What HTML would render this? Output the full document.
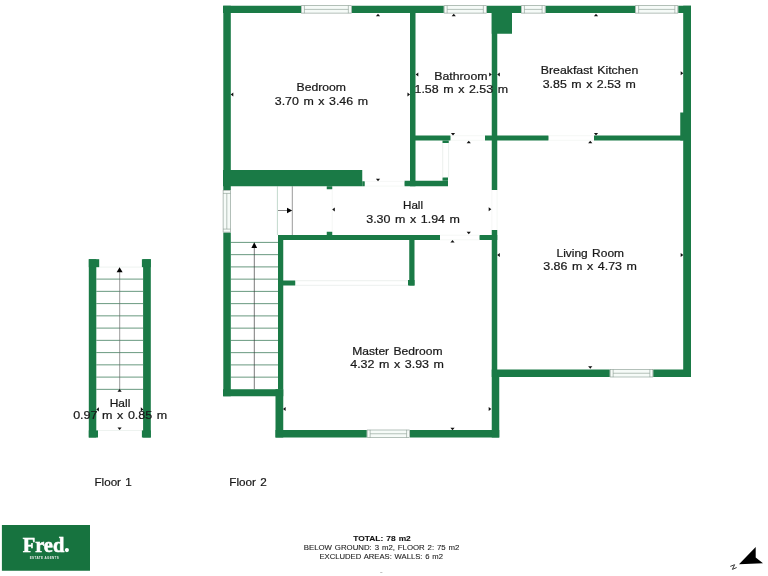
<!DOCTYPE html>
<html><head><meta charset="utf-8"><title>Floor plan</title>
<style>html,body{margin:0;padding:0;background:#fff;}body{width:768px;height:576px;overflow:hidden;}svg{display:block;}text{font-family:"Liberation Sans",sans-serif;}</style>
</head><body>
<svg width="768" height="576" viewBox="0 0 768 576">
<rect width="768" height="576" fill="#fff"/>
<g id="stairs2">
<line x1="230.8" y1="242.4" x2="278" y2="242.4" stroke="#437f60" stroke-width="0.8"/>
<line x1="230.8" y1="254.65" x2="278" y2="254.65" stroke="#437f60" stroke-width="0.8"/>
<line x1="230.8" y1="266.9" x2="278" y2="266.9" stroke="#437f60" stroke-width="0.8"/>
<line x1="230.8" y1="279.15" x2="278" y2="279.15" stroke="#437f60" stroke-width="0.8"/>
<line x1="230.8" y1="291.4" x2="278" y2="291.4" stroke="#437f60" stroke-width="0.8"/>
<line x1="230.8" y1="303.65" x2="278" y2="303.65" stroke="#437f60" stroke-width="0.8"/>
<line x1="230.8" y1="315.9" x2="278" y2="315.9" stroke="#437f60" stroke-width="0.8"/>
<line x1="230.8" y1="328.15" x2="278" y2="328.15" stroke="#437f60" stroke-width="0.8"/>
<line x1="230.8" y1="340.4" x2="278" y2="340.4" stroke="#437f60" stroke-width="0.8"/>
<line x1="230.8" y1="352.65" x2="278" y2="352.65" stroke="#437f60" stroke-width="0.8"/>
<line x1="230.8" y1="364.9" x2="278" y2="364.9" stroke="#437f60" stroke-width="0.8"/>
<line x1="230.8" y1="377.15" x2="278" y2="377.15" stroke="#437f60" stroke-width="0.8"/>
<line x1="277.4" y1="186.25" x2="277.4" y2="235" stroke="#a9c9b7" stroke-width="0.7"/>
<line x1="292.3" y1="186.25" x2="292.3" y2="235" stroke="#555" stroke-width="0.6"/>
<line x1="254.3" y1="389.25" x2="254.3" y2="247" stroke="#333" stroke-width="0.65"/>
<polygon points="251.4,248 257.1,248 254.25,242.3" fill="#000"/>
<line x1="278" y1="210.5" x2="288" y2="210.5" stroke="#333" stroke-width="0.6"/>
<polygon points="287,207.7 287,213.3 292.2,210.5" fill="#000"/>
</g>
<g id="walls2">
<rect x="223" y="5.75" width="468" height="7.25" fill="#1a7a46"/>
<rect x="223.3" y="5.75" width="7.5" height="390.5" fill="#1a7a46"/>
<rect x="683.2" y="5.75" width="7.8" height="371.25" fill="#1a7a46"/>
<rect x="680.25" y="112.5" width="10.75" height="28.0" fill="#1a7a46"/>
<rect x="223" y="170" width="139.25" height="16.25" fill="#1a7a46"/>
<rect x="362.25" y="181.25" width="2.5" height="5.0" fill="#1a7a46"/>
<rect x="223" y="389.25" width="60.25" height="7.0" fill="#1a7a46"/>
<rect x="278" y="235" width="5.25" height="154.25" fill="#1a7a46"/>
<rect x="275.5" y="389.25" width="7.75" height="48.25" fill="#1a7a46"/>
<rect x="275.5" y="430" width="223.75" height="7.5" fill="#1a7a46"/>
<rect x="491.75" y="377" width="7.5" height="60.5" fill="#1a7a46"/>
<rect x="491.75" y="369.5" width="199.25" height="7.5" fill="#1a7a46"/>
<rect x="410" y="13" width="5.5" height="173.25" fill="#1a7a46"/>
<rect x="491.75" y="13" width="5.5" height="177" fill="#1a7a46"/>
<rect x="491.75" y="230" width="5.5" height="147" fill="#1a7a46"/>
<rect x="491.75" y="13" width="20.25" height="20.75" fill="#1a7a46"/>
<rect x="410" y="135.5" width="40.5" height="5.0" fill="#1a7a46"/>
<rect x="442.5" y="140.5" width="6.25" height="2.5" fill="#1a7a46"/>
<rect x="485" y="135.5" width="63.5" height="5.0" fill="#1a7a46"/>
<rect x="594" y="135.5" width="89.5" height="5.0" fill="#1a7a46"/>
<rect x="404.5" y="180.75" width="43.5" height="5.5" fill="#1a7a46"/>
<rect x="442.5" y="177.5" width="5.5" height="3.25" fill="#1a7a46"/>
<rect x="278" y="235" width="162" height="5" fill="#1a7a46"/>
<rect x="479.5" y="235" width="17.75" height="5" fill="#1a7a46"/>
<rect x="326.75" y="186.25" width="5.5" height="3.0" fill="#1a7a46"/>
<rect x="326.75" y="231.75" width="5.5" height="3.25" fill="#1a7a46"/>
<rect x="409.25" y="240" width="5.25" height="45.5" fill="#1a7a46"/>
<rect x="408" y="280" width="6.5" height="5.5" fill="#1a7a46"/>
<rect x="283" y="280.5" width="12.25" height="5.0" fill="#1a7a46"/>
</g>
<g id="thin">
<line x1="332.25" y1="189.25" x2="332.25" y2="231.75" stroke="#eef2ef" stroke-width="0.6"/>
<line x1="364.75" y1="181.4" x2="404.5" y2="181.4" stroke="#eef2ef" stroke-width="0.6"/>
<line x1="364.75" y1="186.1" x2="404.5" y2="186.1" stroke="#eef2ef" stroke-width="0.6"/>
<line x1="450.5" y1="135.7" x2="485" y2="135.7" stroke="#eef2ef" stroke-width="0.6"/>
<line x1="450.5" y1="140.3" x2="485" y2="140.3" stroke="#eef2ef" stroke-width="0.6"/>
<line x1="548.5" y1="135.7" x2="594" y2="135.7" stroke="#eef2ef" stroke-width="0.6"/>
<line x1="548.5" y1="140.3" x2="594" y2="140.3" stroke="#eef2ef" stroke-width="0.6"/>
<line x1="491.9" y1="190" x2="491.9" y2="230" stroke="#eef2ef" stroke-width="0.6"/>
<line x1="497.1" y1="190" x2="497.1" y2="230" stroke="#eef2ef" stroke-width="0.6"/>
<line x1="440" y1="235.2" x2="479.5" y2="235.2" stroke="#eef2ef" stroke-width="0.6"/>
<line x1="440" y1="239.8" x2="479.5" y2="239.8" stroke="#eef2ef" stroke-width="0.6"/>
<line x1="442.7" y1="143" x2="442.7" y2="177.5" stroke="#dfe6e2" stroke-width="0.6"/>
<line x1="448.6" y1="143" x2="448.6" y2="177.5" stroke="#dfe6e2" stroke-width="0.6"/>
<line x1="295.25" y1="280.7" x2="408" y2="280.7" stroke="#dfe6e2" stroke-width="0.6"/>
<line x1="295.25" y1="285.3" x2="408" y2="285.3" stroke="#dfe6e2" stroke-width="0.6"/>
</g>
<g id="windows">
<rect x="301" y="5.3" width="50.75" height="8.2" fill="#fff"/>
<rect x="301.3" y="5.6" width="50.15" height="7.6" fill="#f6fbf8"/>
<rect x="301.4" y="5.699999999999999" width="49.95" height="7.4" fill="none" stroke="#889a90" stroke-width="0.6"/>
<line x1="304.4" y1="5.6" x2="304.4" y2="13.2" stroke="#889a90" stroke-width="0.6"/>
<line x1="348.35" y1="5.6" x2="348.35" y2="13.2" stroke="#889a90" stroke-width="0.6"/>
<line x1="304.4" y1="9.399999999999999" x2="348.35" y2="9.399999999999999" stroke="#889a90" stroke-width="0.6"/>
<rect x="443.75" y="5.3" width="43.0" height="8.2" fill="#fff"/>
<rect x="444.05" y="5.6" width="42.4" height="7.6" fill="#f6fbf8"/>
<rect x="444.15" y="5.699999999999999" width="42.2" height="7.4" fill="none" stroke="#889a90" stroke-width="0.6"/>
<line x1="447.15" y1="5.6" x2="447.15" y2="13.2" stroke="#889a90" stroke-width="0.6"/>
<line x1="483.35" y1="5.6" x2="483.35" y2="13.2" stroke="#889a90" stroke-width="0.6"/>
<line x1="447.15" y1="9.399999999999999" x2="483.35" y2="9.399999999999999" stroke="#889a90" stroke-width="0.6"/>
<rect x="521" y="5.3" width="24.5" height="8.2" fill="#fff"/>
<rect x="521.3" y="5.6" width="23.9" height="7.6" fill="#f6fbf8"/>
<rect x="521.4" y="5.699999999999999" width="23.7" height="7.4" fill="none" stroke="#889a90" stroke-width="0.6"/>
<line x1="524.4" y1="5.6" x2="524.4" y2="13.2" stroke="#889a90" stroke-width="0.6"/>
<line x1="542.1" y1="5.6" x2="542.1" y2="13.2" stroke="#889a90" stroke-width="0.6"/>
<line x1="524.4" y1="9.399999999999999" x2="542.1" y2="9.399999999999999" stroke="#889a90" stroke-width="0.6"/>
<rect x="635.25" y="5.3" width="43.0" height="8.2" fill="#fff"/>
<rect x="635.55" y="5.6" width="42.4" height="7.6" fill="#f6fbf8"/>
<rect x="635.65" y="5.699999999999999" width="42.2" height="7.4" fill="none" stroke="#889a90" stroke-width="0.6"/>
<line x1="638.65" y1="5.6" x2="638.65" y2="13.2" stroke="#889a90" stroke-width="0.6"/>
<line x1="674.85" y1="5.6" x2="674.85" y2="13.2" stroke="#889a90" stroke-width="0.6"/>
<line x1="638.65" y1="9.399999999999999" x2="674.85" y2="9.399999999999999" stroke="#889a90" stroke-width="0.6"/>
<rect x="366.75" y="429.59999999999997" width="43.25" height="8.3" fill="#fff"/>
<rect x="367.05" y="429.9" width="42.65" height="7.7" fill="#f6fbf8"/>
<rect x="367.15" y="430.0" width="42.45" height="7.5" fill="none" stroke="#889a90" stroke-width="0.6"/>
<line x1="370.15" y1="429.9" x2="370.15" y2="437.6" stroke="#889a90" stroke-width="0.6"/>
<line x1="406.6" y1="429.9" x2="406.6" y2="437.6" stroke="#889a90" stroke-width="0.6"/>
<line x1="370.15" y1="433.75" x2="406.6" y2="433.75" stroke="#889a90" stroke-width="0.6"/>
<rect x="609.75" y="369.09999999999997" width="43.5" height="8.3" fill="#fff"/>
<rect x="610.05" y="369.4" width="42.9" height="7.7" fill="#f6fbf8"/>
<rect x="610.15" y="369.5" width="42.7" height="7.5" fill="none" stroke="#889a90" stroke-width="0.6"/>
<line x1="613.15" y1="369.4" x2="613.15" y2="377.1" stroke="#889a90" stroke-width="0.6"/>
<line x1="649.85" y1="369.4" x2="649.85" y2="377.1" stroke="#889a90" stroke-width="0.6"/>
<line x1="613.15" y1="373.25" x2="649.85" y2="373.25" stroke="#889a90" stroke-width="0.6"/>
<rect x="222.7" y="190" width="8.2" height="42.5" fill="#fff"/>
<rect x="223" y="190.3" width="7.6" height="41.9" fill="#f6fbf8"/>
<rect x="223.1" y="190.4" width="7.4" height="41.7" fill="none" stroke="#889a90" stroke-width="0.6"/>
<line x1="223" y1="193.4" x2="230.6" y2="193.4" stroke="#889a90" stroke-width="0.6"/>
<line x1="223" y1="229.1" x2="230.6" y2="229.1" stroke="#889a90" stroke-width="0.6"/>
<line x1="226.8" y1="193.4" x2="226.8" y2="229.1" stroke="#889a90" stroke-width="0.6"/>
</g>
<g id="floor1">
<line x1="96.3" y1="279.1" x2="143.1" y2="279.1" stroke="#437f60" stroke-width="0.8"/>
<line x1="96.3" y1="291.35" x2="143.1" y2="291.35" stroke="#437f60" stroke-width="0.8"/>
<line x1="96.3" y1="303.6" x2="143.1" y2="303.6" stroke="#437f60" stroke-width="0.8"/>
<line x1="96.3" y1="315.85" x2="143.1" y2="315.85" stroke="#437f60" stroke-width="0.8"/>
<line x1="96.3" y1="328.1" x2="143.1" y2="328.1" stroke="#437f60" stroke-width="0.8"/>
<line x1="96.3" y1="340.35" x2="143.1" y2="340.35" stroke="#437f60" stroke-width="0.8"/>
<line x1="96.3" y1="352.6" x2="143.1" y2="352.6" stroke="#437f60" stroke-width="0.8"/>
<line x1="96.3" y1="364.85" x2="143.1" y2="364.85" stroke="#437f60" stroke-width="0.8"/>
<line x1="96.3" y1="377.1" x2="143.1" y2="377.1" stroke="#437f60" stroke-width="0.8"/>
<line x1="96.3" y1="389.35" x2="143.1" y2="389.35" stroke="#437f60" stroke-width="0.8"/>
<line x1="99.4" y1="267.1" x2="141.9" y2="267.1" stroke="#e3ebe6" stroke-width="0.6"/>
<line x1="98" y1="430.5" x2="141.9" y2="430.5" stroke="#e3ebe6" stroke-width="0.6"/>
<line x1="119.7" y1="389.3" x2="119.7" y2="272" stroke="#666" stroke-width="0.65"/>
<polygon points="116.6,272.2 122.6,272.2 119.6,267.3" fill="#000"/>
<rect x="88.8" y="259.2" width="7.5" height="178.3" fill="#1a7a46"/>
<rect x="88.8" y="259.2" width="10.4" height="8.0" fill="#1a7a46"/>
<rect x="88.8" y="430.4" width="9.2" height="7.1" fill="#1a7a46"/>
<rect x="143.1" y="259.2" width="7.7" height="178.3" fill="#1a7a46"/>
<rect x="141.9" y="259.2" width="8.9" height="8.0" fill="#1a7a46"/>
<rect x="141.9" y="430.4" width="8.9" height="7.1" fill="#1a7a46"/>
</g>
<g id="markers">
<polygon points="375.9,16.3 380.1,16.3 378,13.7" fill="#111"/>
<polygon points="233.3,92.4 233.3,96.6 230.7,94.5" fill="#111"/>
<polygon points="407.45,92.4 407.45,96.6 410.05,94.5" fill="#111"/>
<polygon points="375.9,178.7 380.1,178.7 378,181.3" fill="#111"/>
<polygon points="418.3,72.4 418.3,76.6 415.7,74.5" fill="#111"/>
<polygon points="489.2,72.4 489.2,76.6 491.8,74.5" fill="#111"/>
<polygon points="451.65,16.3 455.85,16.3 453.75,13.7" fill="#111"/>
<polygon points="450.9,132.95 455.1,132.95 453,135.55" fill="#111"/>
<polygon points="499.8,72.4 499.8,76.6 497.2,74.5" fill="#111"/>
<polygon points="680.7,71.15 680.7,75.35 683.3,73.25" fill="#111"/>
<polygon points="593.9,16.3 598.1,16.3 596,13.7" fill="#111"/>
<polygon points="593.9,132.95 598.1,132.95 596,135.55" fill="#111"/>
<polygon points="334.8,207.4 334.8,211.6 332.2,209.5" fill="#111"/>
<polygon points="488.7,207.15 488.7,211.35 491.3,209.25" fill="#111"/>
<polygon points="466.65,143.3 470.85,143.3 468.75,140.7" fill="#111"/>
<polygon points="466.65,231.7 470.85,231.7 468.75,234.3" fill="#111"/>
<polygon points="499.8,252.9 499.8,257.1 497.2,255" fill="#111"/>
<polygon points="680.7,252.9 680.7,257.1 683.3,255" fill="#111"/>
<polygon points="588.15,143.3 592.35,143.3 590.25,140.7" fill="#111"/>
<polygon points="588.15,366.2 592.35,366.2 590.25,368.8" fill="#111"/>
<polygon points="285.6,406.9 285.6,411.1 283.0,409" fill="#111"/>
<polygon points="488.7,406.9 488.7,411.1 491.3,409" fill="#111"/>
<polygon points="450.4,242.55 454.6,242.55 452.5,239.95" fill="#111"/>
<polygon points="450.4,427.7 454.6,427.7 452.5,430.3" fill="#111"/>
<polygon points="117.5,391.7 121.69999999999999,391.7 119.6,389.09999999999997" fill="#111"/>
<polygon points="117.5,427.4 121.69999999999999,427.4 119.6,430.0" fill="#111"/>
<polygon points="98.89999999999999,407.29999999999995 98.89999999999999,411.5 96.3,409.4" fill="#111"/>
<polygon points="140.79999999999998,407.29999999999995 140.79999999999998,411.5 143.4,409.4" fill="#111"/>
</g>
<g id="labels" style="filter:grayscale(1)">
<text x="321.25" y="90.85" text-anchor="middle" font-size="11.5" font-weight="normal" fill="#181818" stroke="#181818" stroke-width="0.22" word-spacing="1.03" textLength="49.5" lengthAdjust="spacingAndGlyphs">Bedroom</text>
<text x="321.4" y="104.6" text-anchor="middle" font-size="11.5" font-weight="normal" fill="#181818" stroke="#181818" stroke-width="0.22" word-spacing="1.03" textLength="93.25" lengthAdjust="spacingAndGlyphs">3.70 m x 3.46 m</text>
<text x="460.9" y="79.6" text-anchor="middle" font-size="11.5" font-weight="normal" fill="#181818" stroke="#181818" stroke-width="0.22" word-spacing="1.03" textLength="53.25" lengthAdjust="spacingAndGlyphs">Bathroom</text>
<text x="461.25" y="93.35" text-anchor="middle" font-size="11.5" font-weight="normal" fill="#181818" stroke="#181818" stroke-width="0.22" word-spacing="1.03" textLength="93.5" lengthAdjust="spacingAndGlyphs">1.58 m x 2.53 m</text>
<text x="589.5" y="74.1" text-anchor="middle" font-size="11.5" font-weight="normal" fill="#181818" stroke="#181818" stroke-width="0.22" word-spacing="1.03" textLength="97.5" lengthAdjust="spacingAndGlyphs">Breakfast Kitchen</text>
<text x="589.25" y="87.6" text-anchor="middle" font-size="11.5" font-weight="normal" fill="#181818" stroke="#181818" stroke-width="0.22" word-spacing="1.03" textLength="93" lengthAdjust="spacingAndGlyphs">3.85 m x 2.53 m</text>
<text x="413" y="208.85" text-anchor="middle" font-size="11.5" font-weight="normal" fill="#181818" stroke="#181818" stroke-width="0.22" word-spacing="1.03" textLength="20" lengthAdjust="spacingAndGlyphs">Hall</text>
<text x="413.1" y="222.6" text-anchor="middle" font-size="11.5" font-weight="normal" fill="#181818" stroke="#181818" stroke-width="0.22" word-spacing="1.03" textLength="93.75" lengthAdjust="spacingAndGlyphs">3.30 m x 1.94 m</text>
<text x="590.25" y="257.1" text-anchor="middle" font-size="11.5" font-weight="normal" fill="#181818" stroke="#181818" stroke-width="0.22" word-spacing="1.03" textLength="67.5" lengthAdjust="spacingAndGlyphs">Living Room</text>
<text x="590.1" y="270.35" text-anchor="middle" font-size="11.5" font-weight="normal" fill="#181818" stroke="#181818" stroke-width="0.22" word-spacing="1.03" textLength="93.75" lengthAdjust="spacingAndGlyphs">3.86 m x 4.73 m</text>
<text x="397.4" y="354.6" text-anchor="middle" font-size="11.5" font-weight="normal" fill="#181818" stroke="#181818" stroke-width="0.22" word-spacing="1.03" textLength="90.25" lengthAdjust="spacingAndGlyphs">Master Bedroom</text>
<text x="397.1" y="368.35" text-anchor="middle" font-size="11.5" font-weight="normal" fill="#181818" stroke="#181818" stroke-width="0.22" word-spacing="1.03" textLength="93.75" lengthAdjust="spacingAndGlyphs">4.32 m x 3.93 m</text>
<text x="120" y="406.7" text-anchor="middle" font-size="11.5" font-weight="normal" fill="#181818" stroke="#181818" stroke-width="0.22" word-spacing="1.03" textLength="20.6" lengthAdjust="spacingAndGlyphs">Hall</text>
<text x="120.2" y="419.3" text-anchor="middle" font-size="11.5" font-weight="normal" fill="#181818" stroke="#181818" stroke-width="0.22" word-spacing="1.03" textLength="94.15" lengthAdjust="spacingAndGlyphs">0.97 m x 0.85 m</text>
<text x="113.1" y="485.6" text-anchor="middle" font-size="11.5" font-weight="normal" fill="#181818" stroke="#181818" stroke-width="0.22" word-spacing="1.03" textLength="37.25" lengthAdjust="spacingAndGlyphs">Floor 1</text>
<text x="248" y="485.6" text-anchor="middle" font-size="11.5" font-weight="normal" fill="#181818" stroke="#181818" stroke-width="0.22" word-spacing="1.03" textLength="37.5" lengthAdjust="spacingAndGlyphs">Floor 2</text>
<text x="382" y="540.8" text-anchor="middle" font-size="7.9" font-weight="bold" fill="#111" stroke="#111" stroke-width="0.1" word-spacing="0.71" textLength="57.5" lengthAdjust="spacingAndGlyphs">TOTAL: 78 m2</text>
<text x="381.6" y="550.0" text-anchor="middle" font-size="7.9" font-weight="normal" fill="#222" stroke="#222" stroke-width="0.1" word-spacing="0.71" textLength="155.75" lengthAdjust="spacingAndGlyphs">BELOW GROUND: 3 m2, FLOOR 2: 75 m2</text>
<text x="381.25" y="558.8" text-anchor="middle" font-size="7.9" font-weight="normal" fill="#222" stroke="#222" stroke-width="0.1" word-spacing="0.71" textLength="123.5" lengthAdjust="spacingAndGlyphs">EXCLUDED AREAS: WALLS: 6 m2</text>
</g>
<rect x="380.2" y="572" width="2.2" height="0.6" fill="#999"/>
<g id="logo">
<rect x="1.9" y="525" width="88.1" height="45.75" fill="#17733f"/>
<g style="filter:grayscale(1)">
<text x="22.7" y="551.5" font-size="20.3" font-weight="bold" fill="#fff" stroke="#fff" stroke-width="0.55" textLength="41.6" lengthAdjust="spacingAndGlyphs" style="font-family:'Liberation Serif',serif">Fred</text>
<circle cx="66.9" cy="550.1" r="2.05" fill="#fff"/>
<text x="44.25" y="558.8" text-anchor="middle" font-size="3" font-weight="bold" fill="#e4efe8" textLength="29" lengthAdjust="spacing">ESTATE AGENTS</text>
</g>
</g>
<g id="compass">
<polygon points="739,564.3 755.7,546.9 755.7,557.4 763,563.3" fill="#000"/>
<path d="M730.3,566.4 L734.6,564.7 L732.4,569.4 L736.7,567.5" fill="none" stroke="#222" stroke-width="0.9" stroke-linejoin="miter"/>
</g>
</svg></body></html>
